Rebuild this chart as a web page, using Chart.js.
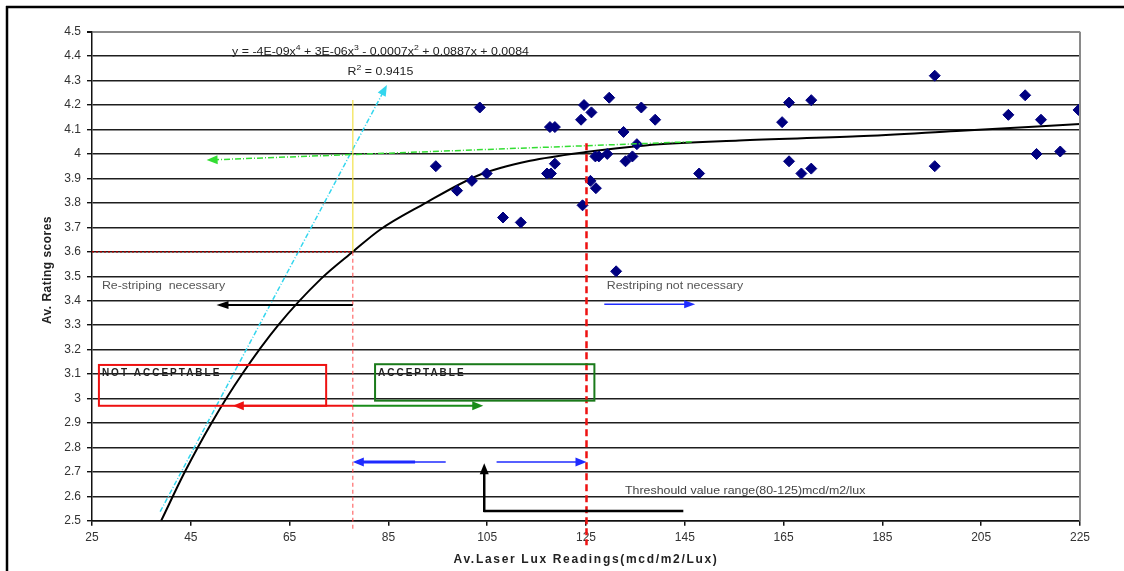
<!DOCTYPE html>
<html>
<head>
<meta charset="utf-8">
<script src="https://cdn.jsdelivr.net/npm/chart.js@4.4.1/dist/chart.umd.min.js"></script>
<style>
html,body{margin:0;padding:0;background:#fff;}
#wrap{width:1124px;height:571px;position:relative;}
</style>
</head>
<body>
<div id="wrap"><canvas id="c" width="1124" height="571"></canvas></div>
<script>
// ---- data ----
const luxReadings = [94.6, 98.9, 101.9, 104.9, 103.5, 108.2, 111.8, 117.1, 117.9, 117.7, 118.7, 118.7, 124.0, 124.6, 126.1, 124.3, 125.9, 127.0, 126.9, 127.6, 129.3, 129.7, 131.1, 132.6, 133.0, 134.4, 135.3, 136.2, 139.0, 147.9, 164.7, 166.1, 170.6, 166.1, 168.6, 170.6, 195.6, 195.6, 210.5, 213.9, 217.1, 216.2, 221.0, 224.7];
const ratingScores = [3.95, 3.85, 3.89, 3.92, 4.19, 3.74, 3.72, 3.92, 3.92, 4.11, 4.11, 3.96, 4.14, 4.20, 4.17, 3.79, 3.89, 3.86, 3.99, 3.99, 4.00, 4.23, 3.52, 4.09, 3.97, 3.99, 4.04, 4.19, 4.14, 3.92, 4.13, 4.21, 4.22, 3.97, 3.92, 3.94, 4.32, 3.95, 4.16, 4.24, 4.14, 4.00, 4.01, 4.18];
const trendLux = [39, 43.8, 49.2, 55.4, 62.7, 71.4, 77.8, 83.3, 91.7, 103.5, 113.7, 125, 137, 156, 180, 200, 225];
const trendRating = [2.5, 2.7, 2.9, 3.1, 3.3, 3.49, 3.6, 3.69, 3.79, 3.915, 3.972, 4.008, 4.035, 4.055, 4.072, 4.094, 4.122];
const xTickValues = [25, 45, 65, 85, 105, 125, 145, 165, 185, 205, 225];
const xTickLabels = ["25", "45", "65", "85", "105", "125", "145", "165", "185", "205", "225"];
const yTickValues = [2.5, 2.6, 2.7, 2.8, 2.9, 3.0, 3.1, 3.2, 3.3, 3.4, 3.5, 3.6, 3.7, 3.8, 3.9, 4.0, 4.1, 4.2, 4.3, 4.4, 4.5];
const yTickLabels = ["2.5", "2.6", "2.7", "2.8", "2.9", "3", "3.1", "3.2", "3.3", "3.4", "3.5", "3.6", "3.7", "3.8", "3.9", "4", "4.1", "4.2", "4.3", "4.4", "4.5"];
const xTitle = "Av.Laser Lux Readings(mcd/m2/Lux)";
const yTitle = "Av. Rating scores";
const thresholdLow = 77.8;
const thresholdHigh = 125.1;

const FONT = '"Liberation Sans", Arial, sans-serif';
const STRETCH = 1.18;

function arrow(ctx, x1, y1, x2, y2, color, lw, dash, hl, hw) {
  ctx.save();
  ctx.strokeStyle = color; ctx.fillStyle = color; ctx.lineWidth = lw;
  ctx.setLineDash(dash || []);
  const a = Math.atan2(y2 - y1, x2 - x1);
  ctx.beginPath();
  ctx.moveTo(x1, y1);
  ctx.lineTo(x2 - Math.cos(a) * hl * 0.8, y2 - Math.sin(a) * hl * 0.8);
  ctx.stroke();
  ctx.setLineDash([]);
  ctx.beginPath();
  ctx.moveTo(x2, y2);
  ctx.lineTo(x2 - hl * Math.cos(a) + hw / 2 * Math.sin(a), y2 - hl * Math.sin(a) - hw / 2 * Math.cos(a));
  ctx.lineTo(x2 - hl * Math.cos(a) - hw / 2 * Math.sin(a), y2 - hl * Math.sin(a) + hw / 2 * Math.cos(a));
  ctx.closePath();
  ctx.fill();
  ctx.restore();
}
function line(ctx, x1, y1, x2, y2, color, lw, dash) {
  ctx.save();
  ctx.strokeStyle = color; ctx.lineWidth = lw; ctx.setLineDash(dash || []);
  ctx.beginPath(); ctx.moveTo(x1, y1); ctx.lineTo(x2, y2); ctx.stroke();
  ctx.restore();
}
function text(ctx, s, x, y, font, color, align, spacing, stretch) {
  ctx.save();
  ctx.translate(x, y);
  if (stretch) ctx.scale(stretch, 1);
  ctx.font = font; ctx.fillStyle = color; ctx.textAlign = align || 'left'; ctx.textBaseline = 'middle';
  if (spacing) ctx.letterSpacing = spacing + 'px';
  ctx.fillText(s, 0, 0);
  ctx.restore();
}
function richCentered(ctx, parts, cx, cy, size, color, stretch) {
  ctx.save();
  ctx.translate(cx, cy);
  ctx.scale(stretch || 1, 1);
  ctx.fillStyle = color; ctx.textBaseline = 'middle'; ctx.textAlign = 'left';
  let w = 0;
  parts.forEach(p => { ctx.font = (p[1] ? size * 0.7 : size) + 'px ' + FONT; w += ctx.measureText(p[0]).width; });
  let x = -w / 2;
  parts.forEach(p => {
    ctx.font = (p[1] ? size * 0.7 : size) + 'px ' + FONT;
    ctx.fillText(p[0], x, p[1] ? -size * 0.4 : 0);
    x += ctx.measureText(p[0]).width;
  });
  ctx.restore();
}
function ys(chart, v) { return chart.scales.y.getPixelForValue(v); }

const annotations = {
  id: 'annotations',
  afterDatasetsDraw(chart) {
    const ctx = chart.ctx;
    const xs = chart.scales.x, yS = chart.scales.y;
    const X = v => xs.getPixelForValue(v), Y = v => yS.getPixelForValue(v);

    // equation + R²
    richCentered(ctx, [["y = -4E-09x", 0], ["4", 1], [" + 3E-06x", 0], ["3", 1], [" - 0.0007x", 0], ["2", 1], [" + 0.0887x + 0.0084", 0]], X(83.4), Y(4.418), 10.5, '#222', STRETCH);
    richCentered(ctx, [["R", 0], ["2", 1], [" = 0.9415", 0]], X(83.4), Y(4.334), 10.5, '#222', STRETCH);

    // cyan dotted trend arrow
    arrow(ctx, X(38.8), Y(2.537), X(84.7), Y(4.282), '#33d6ee', 1.5, [5, 2, 1, 2], 11, 9);
    // yellow vertical marker
    line(ctx, X(thresholdLow), Y(4.221), X(thresholdLow), Y(3.6), '#f2e24a', 1.2);
    // green dash-dot arrow
    arrow(ctx, X(146.4), Y(4.05), X(48.2), Y(3.975), '#33dd33', 1.5, [6, 2, 1, 2], 11, 9);
    // dark red dotted horizontal at 3.6
    line(ctx, X(25), Y(3.6), X(thresholdLow), Y(3.6), '#a00000', 1.5, [2, 2]);
    // thin red dashed vertical at low threshold
    line(ctx, X(thresholdLow), Y(3.6), X(thresholdLow), Y(2.455), '#ff4d4d', 1, [4, 3]);
    // bold red dashed vertical at high threshold
    line(ctx, X(thresholdHigh), Y(4.044), X(thresholdHigh), Y(2.40), '#ee1111', 2.5, [7, 4]);

    // labels
    text(ctx, 'Re-striping  necessary', X(27.0), Y(3.46), '10.5px ' + FONT, '#555', 'left', 0, STRETCH);
    arrow(ctx, X(thresholdLow), Y(3.382), X(50.2), Y(3.382), '#000', 2, null, 12, 8);
    text(ctx, 'Restriping not necessary', X(129.2), Y(3.46), '10.5px ' + FONT, '#555', 'left', 0, STRETCH);
    arrow(ctx, X(128.7), Y(3.385), X(147.1), Y(3.385), '#1f2bff', 1.5, null, 11, 8);

    // boxes
    ctx.save();
    ctx.strokeStyle = '#ee1111'; ctx.lineWidth = 2;
    ctx.strokeRect(X(26.4), Y(3.137), X(72.4) - X(26.4), Y(2.970) - Y(3.137));
    ctx.strokeStyle = '#1a7a1a';
    ctx.strokeRect(X(82.3), Y(3.140), X(126.7) - X(82.3), Y(2.991) - Y(3.140));
    ctx.restore();
    text(ctx, 'NOT ACCEPTABLE', X(27.0), Y(3.104), 'bold 10px ' + FONT, '#222', 'left', 2);
    text(ctx, 'ACCEPTABLE', X(82.9), Y(3.104), 'bold 10px ' + FONT, '#222', 'left', 2);
    arrow(ctx, X(thresholdLow), Y(2.970), X(53.5), Y(2.970), '#ee1111', 2, null, 11, 9);
    arrow(ctx, X(thresholdLow), Y(2.970), X(104.2), Y(2.970), '#1a8c1a', 2, null, 11, 9);

    // blue range arrows
    line(ctx, X(thresholdLow + 2), Y(2.740), X(90.4), Y(2.740), '#1f2bff', 3);
    arrow(ctx, X(96.6), Y(2.740), X(thresholdLow), Y(2.740), '#1f2bff', 1.5, null, 11, 9);
    arrow(ctx, X(106.9), Y(2.740), X(thresholdHigh), Y(2.740), '#1f2bff', 1.5, null, 11, 9);

    // black L arrow
    line(ctx, X(104.4), Y(2.540), X(144.7), Y(2.540), '#000', 2.5);
    arrow(ctx, X(104.4), Y(2.540) + 1.2, X(104.4), Y(2.735), '#000', 2.5, null, 11, 9);
    text(ctx, 'Threshould value range(80-125)mcd/m2/lux', X(132.9), Y(2.62), '10.5px ' + FONT, '#444', 'left', 0, STRETCH);
  },
  afterDraw(chart) {
    const ctx = chart.ctx, ca = chart.chartArea;
    // plot right border
    line(ctx, ca.right, ca.top, ca.right, ca.bottom, '#8a8a8a', 2);
    // axis titles
    const tx = (ca.left + ca.right) / 2;
    ctx.save();
    ctx.font = 'bold 12px ' + FONT;
    const w0 = ctx.measureText(xTitle).width;
    const w1 = ctx.measureText(yTitle).width;
    ctx.restore();
    text(ctx, xTitle, tx, 560, 'bold 12px ' + FONT, '#222', 'center', Math.max(0, (265 - w0) / xTitle.length));
    ctx.save();
    ctx.translate(48, ys(chart, 3.525));
    ctx.rotate(-Math.PI / 2);
    text(ctx, yTitle, 0, 0, 'bold 12px ' + FONT, '#222', 'center', Math.max(0, (108 - w1) / yTitle.length));
    ctx.restore();
    // outer frame (left and top)
    line(ctx, 7, 6, 7, 571, '#000', 2.5);
    line(ctx, 6, 7, 1124, 7, '#000', 2.5);
  }
};

const points = luxReadings.map((v, i) => ({ x: v, y: ratingScores[i] }));
const trend = trendLux.map((v, i) => ({ x: v, y: trendRating[i] }));

new Chart(document.getElementById('c'), {
  type: 'scatter',
  data: {
    datasets: [
      {
        label: 'Av. Rating',
        data: points,
        pointStyle: 'rectRot',
        pointRadius: 5.5,
        backgroundColor: '#000080',
        borderColor: '#000080',
        borderWidth: 1
      },
      {
        label: 'Trend',
        type: 'line',
        data: trend,
        borderColor: '#000',
        borderWidth: 2,
        pointRadius: 0,
        fill: false,
        cubicInterpolationMode: 'monotone'
      }
    ]
  },
  options: {
    responsive: false,
    animation: false,
    devicePixelRatio: 1,
    layout: { padding: { left: 0, top: 31.7, right: 44, bottom: 0 } },
    plugins: { legend: { display: false }, tooltip: { enabled: false } },
    scales: {
      x: {
        type: 'linear', min: 25, max: 225,
        afterBuildTicks: s => { s.ticks = xTickValues.map(v => ({ value: v })); },
        afterFit: s => { s.height = 50.3; },
        ticks: {
          autoSkip: false, maxRotation: 0, padding: 5,
          color: '#333', font: { size: 12, family: FONT },
          callback: (v) => { const i = xTickValues.indexOf(v); return i >= 0 ? xTickLabels[i] : ''; }
        },
        grid: { drawOnChartArea: false, drawTicks: true, tickLength: 5, color: '#111', lineWidth: 1.5 },
        border: { color: '#111', width: 1.5 }
      },
      y: {
        type: 'linear', min: 2.5, max: 4.5,
        afterBuildTicks: s => { s.ticks = yTickValues.map(v => ({ value: v })); },
        afterFit: s => { s.width = 92; },
        ticks: {
          autoSkip: false, padding: 6,
          color: '#333', font: { size: 12, family: FONT },
          callback: (v) => { const i = yTickValues.findIndex(t => Math.abs(t - v) < 1e-6); return i >= 0 ? yTickLabels[i] : ''; }
        },
        grid: {
          drawTicks: true, tickLength: 5,
          color: c => (c.tick && Math.abs(c.tick.value - 4.5) < 1e-6) ? '#8a8a8a' : '#1e1e1e',
          lineWidth: c => (c.tick && Math.abs(c.tick.value - 4.5) < 1e-6) ? 2 : 1.4,
          tickColor: '#111'
        },
        border: { color: '#111', width: 1.5 }
      }
    }
  },
  plugins: [annotations]
});
</script>
</body>
</html>
